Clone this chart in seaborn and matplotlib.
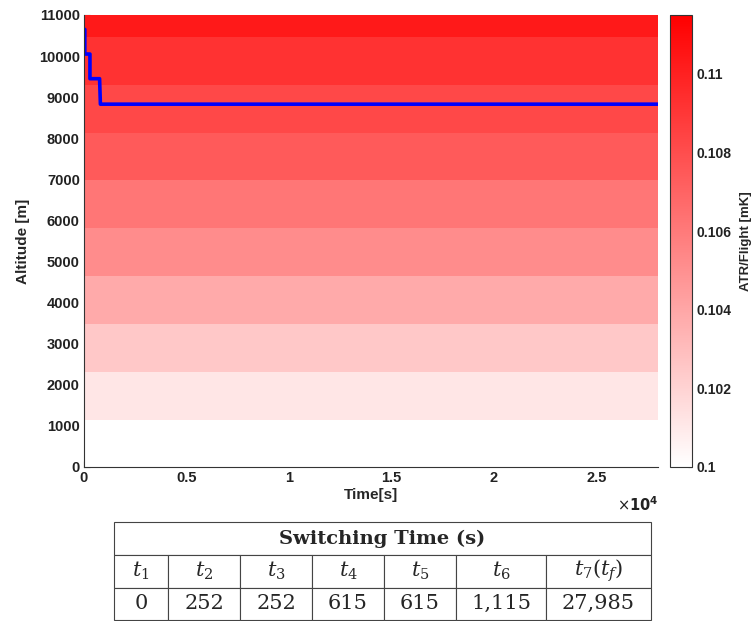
import matplotlib
matplotlib.use("Agg")
import matplotlib.pyplot as plt
import seaborn as sns
import numpy as np
import pandas as pd
from matplotlib.colors import LinearSegmentedColormap
from matplotlib.ticker import FuncFormatter

# altitude bands (edges in m) and the ATR/flight value of each band
band_edges = [0, 1150, 2315, 3480, 4645, 5810, 6975, 8140, 9305, 10470, 11000]
band_atr = [0.1000, 0.10113, 0.10248, 0.10383, 0.10519, 0.10618,
            0.10744, 0.10826, 0.10925, 0.11037]

# optimal altitude profile
path_time = [0, 40, 40, 290, 290, 760, 800, 28000]
path_alt = [10650, 10650, 10050, 10050, 9450, 9450, 8830, 8830]

# switching times table
col_labels = [r"$t_1$", r"$t_2$", r"$t_3$", r"$t_4$", r"$t_5$", r"$t_6$", r"$t_7(t_f)$"]
switch_times = ["0", "252", "252", "615", "615", "1,115", "27,985"]

sns.set_theme(style="ticks")
plt.rcParams["font.family"] = ["Liberation Sans", "DejaVu Sans"]

W, H = 754, 621
fig = plt.figure(figsize=(W / 100, H / 100), dpi=100)
ax = fig.add_axes([84 / W, 1 - 467 / H, 574 / W, 452 / H])
cax = fig.add_axes([670 / W, 1 - 467 / H, 22 / W, 452 / H])

cmap = LinearSegmentedColormap.from_list("wr", ["#ffffff", "#ff0000"])
mesh = ax.pcolormesh([0, 28000], band_edges, np.array(band_atr).reshape(-1, 1),
                     cmap=cmap, vmin=0.1, vmax=0.1115, shading="flat")

df = pd.DataFrame({"time": path_time, "alt": path_alt})
sns.lineplot(data=df, x="time", y="alt", ax=ax, color="#0000ff", lw=2.6,
             sort=False, estimator=None)

ax.set_xlim(0, 28000)
ax.set_ylim(0, 11000)
ax.set_yticks(range(0, 11001, 1000))
ax.set_xticks(range(0, 25001, 5000))
ax.xaxis.set_major_formatter(FuncFormatter(lambda v, p: f"{v / 1e4:g}"))
ax.tick_params(direction="in", length=4, width=0.8, labelsize=10.5, pad=3, colors="#222222")
for lbl in ax.get_xticklabels() + ax.get_yticklabels():
    lbl.set_fontweight("bold")
for s in ["top", "right"]:
    ax.spines[s].set_visible(False)
for s in ["left", "bottom"]:
    ax.spines[s].set_color("#333333")
    ax.spines[s].set_linewidth(0.8)
ax.set_xlabel("Time[s]", fontsize=11, fontweight="bold", labelpad=2)
ax.set_ylabel("Altitude [m]", fontsize=11, fontweight="bold", labelpad=6)
ax.text(1.0, -0.062, r"$\times\mathbf{10^4}$", transform=ax.transAxes, ha="right", va="top",
        fontsize=10.5, color="#222222", math_fontfamily="dejavusans")

cb = fig.colorbar(mesh, cax=cax)
cb.set_ticks([0.1, 0.102, 0.104, 0.106, 0.108, 0.11])
cb.ax.yaxis.set_major_formatter(FuncFormatter(lambda v, p: f"{v:g}"))
cb.ax.tick_params(direction="in", length=3, width=0.8, labelsize=10, colors="#222222")
for lbl in cb.ax.get_yticklabels():
    lbl.set_fontweight("bold")
cb.outline.set_edgecolor("#333333")
cb.outline.set_linewidth(0.8)
cb.set_label("ATR/Flight [mK]", fontsize=9.5, fontweight="bold", labelpad=6)

# table below the chart
serif = "DejaVu Serif"
tx0, tx1 = 114 / W, 651 / W
col_w = [54, 72, 72, 72, 72, 90, 105]
col_w = [c / sum(col_w) for c in col_w]

head = fig.add_axes([tx0, 1 - 555 / H, tx1 - tx0, 33 / H])
head.axis("off")
t1 = head.table(cellText=[["Switching Time (s)"]], bbox=[0, 0, 1, 1], cellLoc="center")
t1.auto_set_font_size(False)
c = t1[0, 0]
c.set_linewidth(0.8)
c.set_edgecolor("#444444")
c.get_text().set_fontproperties({"family": serif, "weight": "bold", "size": 14})

body = fig.add_axes([tx0, 1 - 620 / H, tx1 - tx0, 65 / H])
body.axis("off")
t2 = body.table(cellText=[col_labels, switch_times], colWidths=col_w,
                bbox=[0, 0, 1, 1], cellLoc="center")
t2.auto_set_font_size(False)
for (r, k), cell in t2.get_celld().items():
    cell.set_linewidth(0.8)
    cell.set_edgecolor("#444444")
    cell.get_text().set_fontproperties({"family": serif, "size": 15,
                                        "math_fontfamily": "dejavuserif"})

fig.savefig("out.png", dpi=100)
